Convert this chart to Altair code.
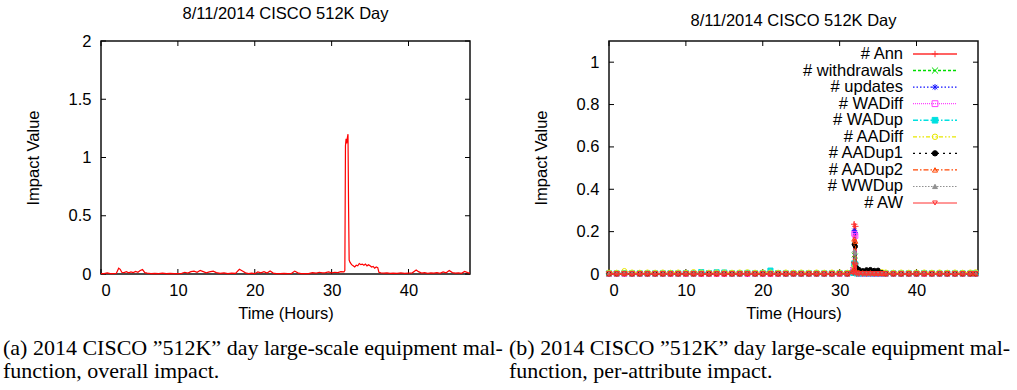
import altair as alt
import pandas as pd

# ---------------- text ----------------
TITLE = "8/11/2014 CISCO 512K Day"
X_TITLE = "Time (Hours)"
Y_TITLE = "Impact Value"
CAPTION_A = ["(a) 2014 CISCO \u201d512K\u201d day large-scale equipment mal-",
             "function, overall impact."]
CAPTION_B = ["(b) 2014 CISCO \u201d512K\u201d day large-scale equipment mal-",
             "function, per-attribute impact."]

# ---------------- ticks / domains ----------------
X_TICKS = [0, 10, 20, 30, 40]
Y_TICKS_A = [0, 0.5, 1, 1.5, 2]
Y_TICKS_B = [0, 0.2, 0.4, 0.6, 0.8, 1]
X_DOMAIN = [0, 48]
Y_DOMAIN_A = [0, 2]
Y_DOMAIN_B = [0, 1.1]

# ---------------- panel (a): overall impact ----------------
HOURS_A = [0.0, 0.4, 0.8, 1.2, 1.6, 2.0, 2.3, 2.5, 2.7, 3.0, 3.3, 3.6, 3.9, 4.2, 4.5, 4.8,
           5.1, 5.4, 5.7, 6.0, 6.5, 7.0, 7.5, 8.0, 8.5, 9.0, 9.5, 10.0, 10.5, 10.9, 11.3,
           11.7, 12.1, 12.5, 12.9, 13.3, 13.7, 14.1, 14.6, 15.0, 15.5, 16.0, 16.5, 17.0,
           17.5, 18.0, 18.4, 18.8, 19.2, 19.6, 20.0, 20.4, 20.8, 21.2, 21.6, 22.0, 22.4,
           22.8, 23.3, 23.8, 24.3, 24.8, 25.2, 25.6, 26.0, 26.5, 27.0, 27.5, 28.0, 28.4,
           28.8, 29.2, 29.6, 30.0, 30.4, 30.8, 31.2, 31.6, 31.72, 31.8, 31.88, 31.96,
           32.05, 32.13, 32.2, 32.28, 32.4, 32.6, 32.8, 33.0, 33.2, 33.4, 33.6, 33.8,
           34.0, 34.2, 34.4, 34.6, 34.8, 35.0, 35.2, 35.4, 35.6, 35.8, 36.0, 36.15,
           36.4, 36.8, 37.2, 37.6, 38.0, 38.5, 39.0, 39.5, 40.0, 40.5, 41.0, 41.3, 41.7,
           42.1, 42.5, 42.9, 43.3, 43.7, 44.1, 44.5, 44.9, 45.3, 45.7, 46.1, 46.5, 46.9,
           47.3, 47.7, 48.0]
IMPACT_A = [0.003, 0.004, 0.010, 0.003, 0.004, 0.006, 0.050, 0.040, 0.015, 0.012, 0.020,
            0.010, 0.018, 0.012, 0.022, 0.015, 0.030, 0.038, 0.012, 0.008, 0.004, 0.006,
            0.003, 0.008, 0.004, 0.005, 0.003, 0.004, 0.006, 0.015, 0.008, 0.020, 0.025,
            0.015, 0.030, 0.020, 0.010, 0.018, 0.025, 0.012, 0.006, 0.010, 0.004, 0.008,
            0.006, 0.040, 0.025, 0.010, 0.004, 0.008, 0.003, 0.018, 0.010, 0.020, 0.008,
            0.025, 0.008, 0.004, 0.003, 0.005, 0.003, 0.006, 0.025, 0.010, 0.004, 0.003,
            0.004, 0.012, 0.008, 0.015, 0.010, 0.012, 0.018, 0.010, 0.015, 0.012, 0.020,
            0.018, 0.030, 1.100, 1.160, 1.120, 1.170, 1.200, 0.600, 0.120, 0.100, 0.080,
            0.070, 0.060, 0.075, 0.070, 0.090, 0.080, 0.085, 0.075, 0.085, 0.070, 0.080,
            0.070, 0.060, 0.065, 0.050, 0.060, 0.055, 0.015, 0.010, 0.008, 0.010, 0.006,
            0.008, 0.006, 0.010, 0.005, 0.008, 0.010, 0.035, 0.020, 0.008, 0.012, 0.006,
            0.010, 0.008, 0.012, 0.006, 0.018, 0.010, 0.030, 0.012, 0.008, 0.010, 0.006,
            0.022, 0.012, 0.008]

# ---------------- panel (b): per-attribute impact ----------------
HOURS_B = [0, 1, 2, 3, 4, 5, 6, 7, 8, 9, 10, 11, 12, 13, 14, 15, 16, 17, 18, 19, 20,
           21, 22, 23, 24, 25, 26, 27, 28, 29, 30, 31,
           31.8, 31.9, 32.05, 32.2,
           32.5, 33, 33.5, 34, 34.5, 35, 35.5,
           36, 37, 38, 39, 40, 41, 42, 43, 44, 45, 46, 47, 47.7]
SERIES = ["# Ann", "# withdrawals", "# updates", "# WADiff", "# WADup", "# AADiff",
          "# AADup1", "# AADup2", "# WWDup", "# AW"]
ANN = [0.002, 0.001, 0.003, 0.002, 0.001, 0.002, 0.001, 0.002, 0.001, 0.002, 0.001,
       0.002, 0.003, 0.002, 0.002, 0.001, 0.002, 0.001, 0.002, 0.003, 0.002, 0.001,
       0.002, 0.001, 0.002, 0.002, 0.001, 0.002, 0.001, 0.002, 0.003, 0.002,
       0.030, 0.235, 0.225, 0.010,
       0.006, 0.005, 0.004, 0.005, 0.004, 0.004, 0.003,
       0.002, 0.001, 0.002, 0.001, 0.002, 0.002, 0.001, 0.002, 0.001, 0.002, 0.001,
       0.002, 0.001]
WITHDRAWALS = [0.002, 0.002, 0.003, 0.002, 0.002, 0.002, 0.001, 0.002, 0.002, 0.002,
               0.001, 0.002, 0.002, 0.002, 0.003, 0.002, 0.002, 0.001, 0.002, 0.002,
               0.002, 0.002, 0.002, 0.001, 0.002, 0.002, 0.002, 0.002, 0.001, 0.002,
               0.002, 0.002,
               0.010, 0.090, 0.085, 0.004,
               0.003, 0.003, 0.002, 0.003, 0.002, 0.002, 0.002,
               0.002, 0.002, 0.002, 0.001, 0.002, 0.002, 0.002, 0.002, 0.002, 0.002,
               0.002, 0.002, 0.002]
UPDATES = [0.002, 0.002, 0.003, 0.002, 0.002, 0.002, 0.002, 0.002, 0.002, 0.002,
           0.002, 0.002, 0.003, 0.002, 0.002, 0.002, 0.002, 0.002, 0.002, 0.002,
           0.002, 0.002, 0.002, 0.002, 0.002, 0.002, 0.002, 0.002, 0.002, 0.002,
           0.002, 0.002,
           0.030, 0.205, 0.195, 0.010,
           0.005, 0.004, 0.004, 0.004, 0.003, 0.003, 0.003,
           0.002, 0.002, 0.002, 0.002, 0.002, 0.002, 0.002, 0.002, 0.002, 0.002,
           0.002, 0.002, 0.002]
WADIFF = [0.000, 0.000, 0.000, 0.000, 0.000, 0.000, 0.000, 0.000, 0.000, 0.000,
          0.000, 0.000, 0.000, 0.000, 0.000, 0.000, 0.000, 0.000, 0.000, 0.000,
          0.000, 0.000, 0.000, 0.000, 0.000, 0.000, 0.000, 0.000, 0.000, 0.000,
          0.000, 0.000,
          0.020, 0.190, 0.180, 0.006,
          0.001, 0.001, 0.000, 0.001, 0.000, 0.000, 0.000,
          0.000, 0.000, 0.000, 0.000, 0.000, 0.000, 0.000, 0.000, 0.000, 0.000,
          0.000, 0.000, 0.000]
WADUP = [0.003, 0.003, 0.004, 0.003, 0.003, 0.003, 0.003, 0.003, 0.004, 0.003,
         0.004, 0.003, 0.009, 0.004, 0.008, 0.007, 0.003, 0.003, 0.005, 0.003,
         0.004, 0.016, 0.004, 0.003, 0.003, 0.003, 0.003, 0.003, 0.003, 0.003,
         0.004, 0.003,
         0.005, 0.050, 0.045, 0.003,
         0.003, 0.003, 0.003, 0.003, 0.003, 0.003, 0.003,
         0.003, 0.003, 0.003, 0.003, 0.003, 0.004, 0.003, 0.003, 0.003, 0.003,
         0.003, 0.003, 0.003]
AADIFF = [0.008, 0.007, 0.015, 0.008, 0.007, 0.008, 0.007, 0.008, 0.007, 0.008,
          0.007, 0.010, 0.008, 0.007, 0.008, 0.008, 0.007, 0.008, 0.009, 0.007,
          0.008, 0.008, 0.007, 0.008, 0.007, 0.008, 0.007, 0.008, 0.007, 0.008,
          0.008, 0.007,
          0.012, 0.035, 0.030, 0.012,
          0.012, 0.010, 0.010, 0.008, 0.010, 0.009, 0.010,
          0.008, 0.007, 0.008, 0.007, 0.008, 0.008, 0.007, 0.008, 0.007, 0.008,
          0.007, 0.008, 0.009]
AADUP1 = [0.001, 0.001, 0.002, 0.001, 0.001, 0.001, 0.001, 0.001, 0.001, 0.001,
          0.002, 0.001, 0.001, 0.001, 0.001, 0.001, 0.001, 0.001, 0.001, 0.001,
          0.001, 0.001, 0.001, 0.001, 0.001, 0.001, 0.001, 0.001, 0.001, 0.001,
          0.003, 0.001,
          0.010, 0.140, 0.130, 0.030,
          0.022, 0.016, 0.020, 0.021, 0.017, 0.018, 0.006,
          0.002, 0.001, 0.001, 0.001, 0.001, 0.002, 0.001, 0.001, 0.001, 0.001,
          0.001, 0.001, 0.001]
AADUP2 = [0.001, 0.001, 0.002, 0.001, 0.001, 0.001, 0.001, 0.001, 0.001, 0.001,
          0.001, 0.001, 0.001, 0.001, 0.001, 0.001, 0.001, 0.001, 0.002, 0.001,
          0.001, 0.001, 0.001, 0.001, 0.001, 0.001, 0.001, 0.001, 0.001, 0.001,
          0.001, 0.001,
          0.020, 0.165, 0.155, 0.012,
          0.008, 0.006, 0.005, 0.006, 0.004, 0.004, 0.003,
          0.001, 0.001, 0.001, 0.001, 0.001, 0.001, 0.001, 0.001, 0.001, 0.001,
          0.001, 0.001, 0.001]
WWDUP = [0.004, 0.004, 0.005, 0.004, 0.004, 0.004, 0.004, 0.004, 0.004, 0.004,
         0.005, 0.004, 0.004, 0.004, 0.004, 0.004, 0.004, 0.004, 0.004, 0.004,
         0.004, 0.004, 0.004, 0.004, 0.004, 0.004, 0.004, 0.004, 0.004, 0.004,
         0.004, 0.004,
         0.008, 0.110, 0.100, 0.006,
         0.005, 0.004, 0.004, 0.004, 0.004, 0.004, 0.004,
         0.004, 0.004, 0.004, 0.004, 0.004, 0.005, 0.004, 0.004, 0.004, 0.004,
         0.004, 0.004, 0.004]
AW = [0.000, 0.000, 0.000, 0.000, 0.000, 0.000, 0.000, 0.000, 0.000, 0.000,
      0.000, 0.000, 0.000, 0.000, 0.000, 0.000, 0.000, 0.000, 0.000, 0.000,
      0.000, 0.000, 0.000, 0.000, 0.000, 0.000, 0.000, 0.000, 0.000, 0.000,
      0.000, 0.000,
      0.004, 0.045, 0.040, 0.000,
      0.000, 0.000, 0.000, 0.000, 0.000, 0.000, 0.000,
      0.000, 0.000, 0.000, 0.000, 0.000, 0.000, 0.000, 0.000, 0.000, 0.000,
      0.000, 0.000, 0.000]
VALUES_B = [ANN, WITHDRAWALS, UPDATES, WADIFF, WADUP, AADIFF, AADUP1, AADUP2, WWDUP, AW]

# ---------------- styles (gnuplot-like line types) ----------------
PLUS = "M-1,0H1M0,-1V1"
CROSS = "M-1,-1L1,1M-1,1L1,-1"
STAR = "M-1,0H1M0,-1V1M-0.75,-0.75L0.75,0.75M-0.75,0.75L0.75,-0.75"
STYLE = {
    "# Ann":         dict(color="#ff3030", dash=[1, 0], width=1.6, shape=PLUS, fill="transparent", size=40),
    "# withdrawals": dict(color="#00dd00", dash=[3, 2], width=1.0, shape=CROSS, fill="transparent", size=22),
    "# updates":     dict(color="#1010ff", dash=[1.5, 2], width=1.0, shape=STAR, fill="#1010ff", size=26),
    "# WADiff":      dict(color="#ff40ff", dash=[1, 1], width=1.0, shape="square", fill="transparent", size=24),
    "# WADup":       dict(color="#00e0e0", dash=[5, 2, 1.5, 2], width=1.0, shape="square", fill="#00e0e0", size=26),
    "# AADiff":      dict(color="#e8e800", dash=[4, 2, 1.5, 2, 1.5, 2], width=1.0, shape="circle", fill="transparent", size=22),
    "# AADup1":      dict(color="#000000", dash=[2, 4], width=1.0, shape="circle", fill="#000000", size=18),
    "# AADup2":      dict(color="#ff4500", dash=[5, 2, 1.5, 2], width=1.0, shape="triangle-up", fill="transparent", size=24),
    "# WWDup":       dict(color="#909090", dash=[1.5, 1.5], width=1.0, shape="triangle-up", fill="#909090", size=10),
    "# AW":          dict(color="#ff3030", dash=[1, 0], width=1.6, shape="triangle-down", fill="transparent", size=30),
}

W, H = 369, 233
TICK = 5
SANS = "Liberation Sans"
SERIF = "Liberation Serif"
FS = 16.5

X_SCALE = alt.Scale(domain=X_DOMAIN, nice=False, zero=False)
X_AXIS = alt.Axis(values=X_TICKS, title=X_TITLE, ticks=False, domain=False, grid=False,
                  labelPadding=8, titlePadding=7, format="d")


def x_enc():
    return alt.X("h:Q", scale=X_SCALE, axis=X_AXIS)


def y_enc(domain, ticks):
    return alt.Y("v:Q", scale=alt.Scale(domain=domain, nice=False, zero=False),
                 axis=alt.Axis(values=ticks, title=Y_TITLE, ticks=False, domain=False, grid=False,
                               labelPadding=10, titlePadding=27, format="~g"))


def inward_ticks(domain, ticks):
    xt = pd.DataFrame({"h": X_TICKS})
    yt = pd.DataFrame({"v": ticks})
    rule = dict(color="black", strokeWidth=1)
    return [
        alt.Chart(xt).mark_rule(**rule).encode(x=x_enc(), y=alt.value(H - TICK), y2=alt.value(H)),
        alt.Chart(xt).mark_rule(**rule).encode(x=x_enc(), y=alt.value(0), y2=alt.value(TICK)),
        alt.Chart(yt).mark_rule(**rule).encode(y=y_enc(domain, ticks), x=alt.value(0), x2=alt.value(TICK)),
        alt.Chart(yt).mark_rule(**rule).encode(y=y_enc(domain, ticks), x=alt.value(W - TICK), x2=alt.value(W)),
    ]


def caption(lines, dx):
    df = pd.DataFrame({"caption": ["\n".join(lines)]})
    return alt.Chart(df).mark_text(align="left", baseline="top", font=SERIF, fontSize=22,
                                   lineHeight=23, lineBreak="\n", color="black").encode(
        text="caption:N", x=alt.value(dx), y=alt.value(H + 64))


top_title = alt.TitleParams(TITLE, font=SANS, fontSize=FS, fontWeight="normal", color="black",
                            anchor="middle", offset=11)

# ----- panel (a)
df_a = pd.DataFrame({"h": HOURS_A, "v": IMPACT_A})
line_a = alt.Chart(df_a).mark_line(color="#ff0000", strokeWidth=1.2).encode(
    x=x_enc(), y=y_enc(Y_DOMAIN_A, Y_TICKS_A))
panel_a = alt.layer(*inward_ticks(Y_DOMAIN_A, Y_TICKS_A), line_a,
                    caption(CAPTION_A, -98)).properties(width=W, height=H, title=top_title)

# ----- panel (b)
rows = []
for name, vals in zip(SERIES, VALUES_B):
    for h, v in zip(HOURS_B, vals):
        rows.append({"h": h, "v": v, "name": name})
df_b = pd.DataFrame(rows)

series_layers = []
for name in SERIES:
    s = STYLE[name]
    base = alt.Chart(df_b).transform_filter(alt.datum.name == name)
    series_layers.append(base.mark_line(color=s["color"], strokeWidth=s["width"],
                                        strokeDash=s["dash"]).encode(
        x=x_enc(), y=y_enc(Y_DOMAIN_B, Y_TICKS_B)))
    series_layers.append(base.mark_point(shape=s["shape"], stroke=s["color"], fill=s["fill"],
                                         size=s["size"], strokeWidth=1, opacity=1).encode(
        x=x_enc(), y=y_enc(Y_DOMAIN_B, Y_TICKS_B)))

plot_b = alt.layer(*inward_ticks(Y_DOMAIN_B, Y_TICKS_B), *series_layers)

# manual gnuplot-style key: text right-aligned, sample line + marker on the right
df_key = pd.DataFrame({"name": SERIES})
key_y = alt.Y("name:N", sort=SERIES, axis=None,
              scale=alt.Scale(type="point", range=[13, 162], padding=0))
key_color = alt.Color("name:N", legend=None,
                      scale=alt.Scale(domain=SERIES, range=[STYLE[n]["color"] for n in SERIES]))
key_dash = alt.StrokeDash("name:N", legend=None,
                          scale=alt.Scale(domain=SERIES, range=[STYLE[n]["dash"] for n in SERIES]))
key_shape = alt.Shape("name:N", legend=None,
                      scale=alt.Scale(domain=SERIES, range=[STYLE[n]["shape"] for n in SERIES]))
key_fill = alt.Fill("name:N", legend=None,
                    scale=alt.Scale(domain=SERIES, range=[STYLE[n]["fill"] for n in SERIES]))
key_size = alt.Size("name:N", legend=None,
                    scale=alt.Scale(domain=SERIES, range=[STYLE[n]["size"] for n in SERIES]))
key_sw = alt.StrokeWidth("name:N", legend=None,
                         scale=alt.Scale(domain=SERIES, range=[STYLE[n]["width"] for n in SERIES]))

key_text = alt.Chart(df_key).mark_text(align="right", baseline="middle", font=SANS,
                                       fontSize=FS, color="black").encode(
    y=key_y, x=alt.value(294), text="name:N")
key_line = alt.Chart(df_key).mark_rule().encode(
    y=key_y, x=alt.value(304), x2=alt.value(348), color=key_color, strokeDash=key_dash,
    strokeWidth=key_sw)
key_mark = alt.Chart(df_key).mark_point(opacity=1, strokeWidth=1).encode(
    y=key_y, x=alt.value(326), shape=key_shape, stroke=key_color, fill=key_fill, size=key_size)
key = alt.layer(key_line, key_mark, key_text)

panel_b = alt.layer(plot_b, key, caption(CAPTION_B, -100)).resolve_scale(
    y="independent").properties(width=W, height=H, title=top_title)

chart = alt.hconcat(panel_a, panel_b, spacing=139, bounds="flush").properties(
    padding={"left": 2, "top": 4, "right": 2, "bottom": 0}
).configure_view(stroke="#111111", strokeWidth=1.5).configure_axis(
    labelFont=SANS, labelFontSize=FS, labelColor="black",
    titleFont=SANS, titleFontSize=FS, titleFontWeight="normal", titleColor="black"
).configure_title(font=SANS, fontSize=FS, fontWeight="normal", color="black")

chart.save("out.html", embed_options={"renderer": "svg", "actions": False})
